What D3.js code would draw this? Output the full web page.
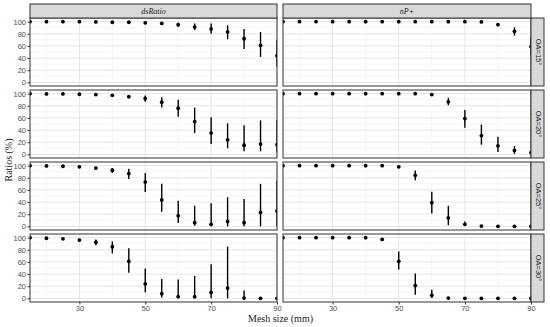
<!DOCTYPE html>
<html>
<head>
<meta charset="utf-8">
<script src="https://cdn.jsdelivr.net/npm/d3@7"></script>
<style>
  body { margin: 0; background: #fff; }
  .tick text { font-family: "Liberation Sans", Arial, sans-serif; font-size: 7.5px; fill: #4d4d4d; }
  .tick line { stroke: #333; }
  .domain { display: none; }
</style>
</head>
<body>
<div id="chart"></div>
<script>
// Mesh sizes (mm), shared by every panel
const meshSize = [15, 20, 25, 30, 35, 40, 45, 50, 55, 60, 65, 70, 75, 80, 85, 90];
const columns = ["dsRatio", "nP+"];
const rowLabels = ["OA=15°", "OA=20°", "OA=25°", "OA=30°"];
const xTicks = [30, 50, 70, 90];
const yTicks = [0, 20, 40, 60, 80, 100];

// dsRatio column: mean, lower, upper
const ds15 = [100, 100, 100, 100, 99.5, 99, 99, 98, 97, 95, 91, 88, 83, 72, 61, 44];
const ds15Lo = [100, 100, 100, 100, 99.5, 99, 99, 98, 97, 91, 86, 80, 71, 55, 42, 26];
const ds15Hi = [100, 100, 100, 100, 99.5, 99, 99, 98, 97, 98, 97, 97, 94, 88, 83, 70];
const ds20 = [100, 99.5, 99.5, 99, 98.4, 97.3, 95, 92, 86, 76, 54, 35, 24, 15, 17, 16];
const ds20Lo = [100, 99.5, 99.5, 99, 98.4, 97.3, 92.4, 86.5, 77, 62, 35, 17, 10, 5, 5, 3];
const ds20Hi = [100, 99.5, 99.5, 99, 98.4, 97.3, 97.8, 96.8, 94, 90, 77, 61, 51, 48, 56, 56];
const ds25 = [100, 99.5, 99, 98, 96, 92.4, 87, 73, 43.5, 17.4, 6, 3.3, 8, 6, 23, 25.5];
const ds25Lo = [100, 99.5, 99, 98, 96, 88, 78, 56.5, 24, 5.4, 1, 0, 0, 0, 0, 0];
const ds25Hi = [100, 99.5, 99, 98, 96, 96, 95, 88, 70, 42, 34, 38, 48, 45, 70, 75.5];
const ds30 = [100, 99, 98, 96, 92.4, 85, 61, 24, 7.6, 2.7, 2.7, 9.7, 17, 0.5, 0, 0];
const ds30Lo = [100, 99, 98, 96, 87.6, 74, 42, 10, 1.6, 0, 0, 0, 0, 0, 0, 0];
const ds30Hi = [100, 99, 98, 96, 97, 94, 82.7, 49, 32, 31, 37, 56, 85, 13, 0, 0];

// nP+ column: mean, lower, upper
const np15 = [100, 100, 100, 100, 100, 100, 100, 100, 100, 100, 100, 100, 99.5, 95, 84, 59];
const np15Lo = [100, 100, 100, 100, 100, 100, 100, 100, 100, 100, 100, 100, 99.5, 95, 77, 45];
const np15Hi = [100, 100, 100, 100, 100, 100, 100, 100, 100, 100, 100, 100, 99.5, 95, 90.5, 73];
const np20 = [100, 100, 100, 100, 100, 100, 100, 100, 100, 98.4, 86.5, 59, 31, 14, 6.5, 2.7];
const np20Lo = [100, 100, 100, 100, 100, 100, 100, 100, 100, 98.4, 81, 44, 16, 4, 1, 2.7];
const np20Hi = [100, 100, 100, 100, 100, 100, 100, 100, 100, 98.4, 93, 73, 49, 29, 13.5, 2.7];
const np25 = [100, 100, 100, 100, 100, 100, 100, 98, 84, 39, 14, 3.3, 0.5, 0, 0, 0];
const np25Lo = [100, 100, 100, 100, 100, 100, 100, 98, 76, 21, 2, 1, 0.5, 0, 0, 0];
const np25Hi = [100, 100, 100, 100, 100, 100, 100, 98, 91.8, 57, 34, 8, 0.5, 0, 0, 0];
const np30 = [100, 100, 100, 100, 100, 100, 97, 61, 21, 5, 0.5, 0, 0, 0, 0, 0];
const np30Lo = [100, 100, 100, 100, 100, 100, 97, 47.6, 6, 0.5, 0.5, 0, 0, 0, 0, 0];
const np30Hi = [100, 100, 100, 100, 100, 100, 97, 77, 41, 14, 0.5, 0, 0, 0, 0, 0];

const panels = [
  [[ds15, ds15Lo, ds15Hi], [np15, np15Lo, np15Hi]],
  [[ds20, ds20Lo, ds20Hi], [np20, np20Lo, np20Hi]],
  [[ds25, ds25Lo, ds25Hi], [np25, np25Lo, np25Hi]],
  [[ds30, ds30Lo, ds30Hi], [np30, np30Lo, np30Hi]]
];

// Layout
const W = 550, H = 327;
const colX = [[30, 277], [283, 531]];
const rowY = [[18, 86], [90, 158], [162, 230], [234, 302]];
const stripTop = 4, stripRight = 544;

const svg = d3.select("#chart").append("svg")
    .attr("width", W)
    .attr("height", H);

const defs = svg.append("defs");

const y0 = d3.scaleLinear().domain([-6, 106]);

panels.forEach((row, ri) => {
  const [top, bottom] = rowY[ri];
  const y = y0.copy().range([bottom, top]);

  row.forEach((series, ci) => {
    const [left, right] = colX[ci];
    const x = d3.scaleLinear().domain([15, 90]).range([left, right]);
    const id = "clip" + ri + "_" + ci;

    defs.append("clipPath").attr("id", id)
      .append("rect")
        .attr("x", left).attr("y", top)
        .attr("width", right - left).attr("height", bottom - top);

    const g = svg.append("g");

    // Panel background and grid
    g.append("rect")
        .attr("x", left).attr("y", top)
        .attr("width", right - left).attr("height", bottom - top)
        .attr("fill", "#fff");

    const minorY = [10, 30, 50, 70, 90];
    const minorX = [20, 40, 60, 80];
    g.selectAll(".gmy").data(minorY).join("line")
        .attr("x1", left).attr("x2", right)
        .attr("y1", d => y(d)).attr("y2", d => y(d))
        .attr("stroke", "#f0f0f0").attr("stroke-width", 0.6);
    g.selectAll(".gmx").data(minorX).join("line")
        .attr("y1", top).attr("y2", bottom)
        .attr("x1", d => x(d)).attr("x2", d => x(d))
        .attr("stroke", "#f0f0f0").attr("stroke-width", 0.6);
    g.selectAll(".gy").data(yTicks).join("line")
        .attr("x1", left).attr("x2", right)
        .attr("y1", d => y(d)).attr("y2", d => y(d))
        .attr("stroke", "#e6e6e6").attr("stroke-width", 1);
    g.selectAll(".gx").data(xTicks).join("line")
        .attr("y1", top).attr("y2", bottom)
        .attr("x1", d => x(d)).attr("x2", d => x(d))
        .attr("stroke", "#e6e6e6").attr("stroke-width", 1);

    // Error bars and points
    const [mean, lo, hi] = series;
    const pts = meshSize.map((m, i) => ({ m: m, v: mean[i], lo: lo[i], hi: hi[i] }));
    const marks = g.append("g").attr("clip-path", "url(#" + id + ")");
    marks.selectAll("line.err").data(pts.filter(d => d.hi - d.lo > 0.1)).join("line")
        .attr("class", "err")
        .attr("x1", d => x(d.m)).attr("x2", d => x(d.m))
        .attr("y1", d => y(d.lo)).attr("y2", d => y(d.hi))
        .attr("stroke", "#000").attr("stroke-width", 1.4);
    marks.selectAll("circle").data(pts).join("circle")
        .attr("cx", d => x(d.m)).attr("cy", d => y(d.v))
        .attr("r", 1.9).attr("fill", "#000");

    // Panel border
    g.append("rect")
        .attr("x", left).attr("y", top)
        .attr("width", right - left).attr("height", bottom - top)
        .attr("fill", "none").attr("stroke", "#333").attr("stroke-width", 1);

    // Y axis on left column
    if (ci === 0) {
      svg.append("g")
          .attr("transform", "translate(" + left + ",0)")
          .call(d3.axisLeft(y).tickValues(yTicks).tickSize(2.5).tickPadding(1.5));
    }
    // X axis on bottom row
    if (ri === panels.length - 1) {
      svg.append("g")
          .attr("transform", "translate(0," + bottom + ")")
          .call(d3.axisBottom(x).tickValues(xTicks).tickSize(2.5).tickPadding(1.5));
    }
  });

  // Right strip
  svg.append("rect")
      .attr("x", colX[1][1]).attr("y", top)
      .attr("width", stripRight - colX[1][1]).attr("height", bottom - top)
      .attr("fill", "#d9d9d9").attr("stroke", "#333").attr("stroke-width", 1);
  svg.append("text")
      .attr("transform", "translate(" + (colX[1][1] + (stripRight - colX[1][1]) / 2 + 0.5) + "," + ((top + bottom) / 2) + ") rotate(90)")
      .attr("text-anchor", "middle")
      .attr("dominant-baseline", "central")
      .attr("font-family", "Liberation Sans, Arial, sans-serif")
      .attr("font-size", 7.5)
      .attr("fill", "#1a1a1a")
      .text(rowLabels[ri]);
});

// Top strips
columns.forEach((c, ci) => {
  const [left, right] = colX[ci];
  svg.append("rect")
      .attr("x", left).attr("y", stripTop)
      .attr("width", right - left).attr("height", rowY[0][0] - stripTop)
      .attr("fill", "#d9d9d9").attr("stroke", "#333").attr("stroke-width", 1);
  svg.append("text")
      .attr("x", (left + right) / 2).attr("y", (stripTop + rowY[0][0]) / 2)
      .attr("text-anchor", "middle")
      .attr("dominant-baseline", "central")
      .attr("font-family", "Liberation Serif, Times New Roman, serif")
      .attr("font-style", "italic")
      .attr("font-size", 8)
      .attr("fill", "#1a1a1a")
      .text(c);
});

// Axis titles
svg.append("text")
    .attr("x", (colX[0][0] + colX[1][1]) / 2).attr("y", 322)
    .attr("text-anchor", "middle")
    .attr("font-family", "Liberation Serif, Times New Roman, serif")
    .attr("font-size", 10)
    .attr("fill", "#1a1a1a")
    .text("Mesh size (mm)");

svg.append("text")
    .attr("transform", "translate(8," + ((rowY[0][0] + rowY[3][1]) / 2) + ") rotate(-90)")
    .attr("text-anchor", "middle")
    .attr("dominant-baseline", "central")
    .attr("font-family", "Liberation Serif, Times New Roman, serif")
    .attr("font-size", 10)
    .attr("fill", "#1a1a1a")
    .text("Ratios (%)");
</script>
</body>
</html>
